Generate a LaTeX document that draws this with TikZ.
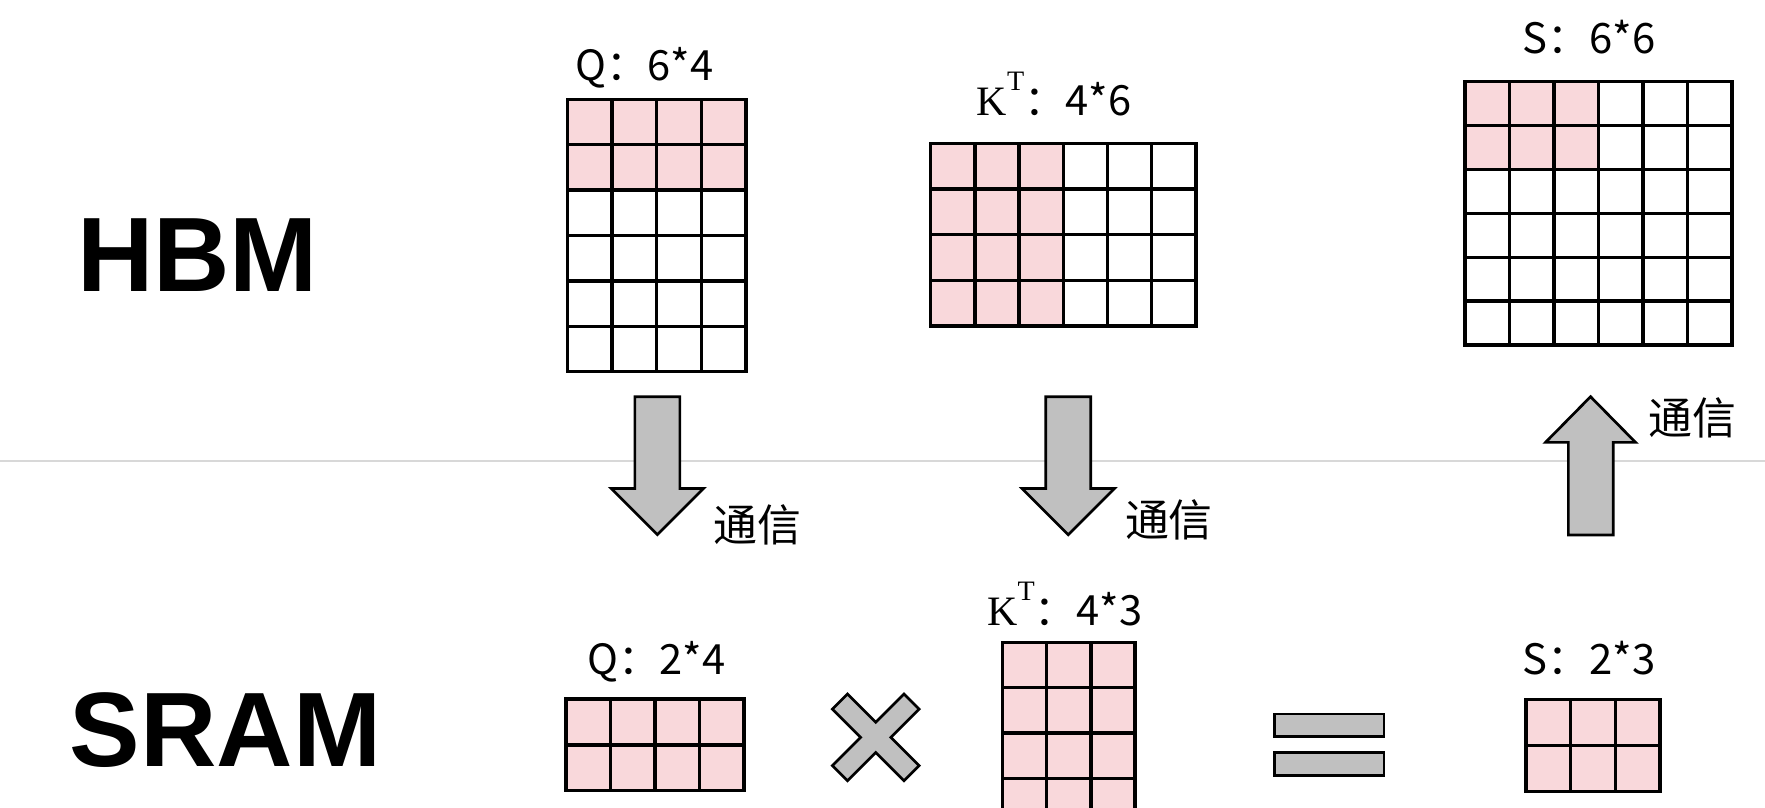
\documentclass[tikz,border=0pt]{standalone}
\usepackage{fontspec}
\setmainfont{Liberation Sans}
\newfontfamily\cjk{Noto Sans CJK SC}
\newfontfamily\serifK{Liberation Serif}
\definecolor{cellpink}{RGB}{249,216,219}
\definecolor{arrowgray}{RGB}{192,192,192}
\definecolor{sepline}{RGB}{216,216,216}
\tikzset{
  gridline/.style={line width=1.5pt, draw=black, line cap=rect},
  blockarrow/.style={fill=arrowgray, draw=black, line width=1.2pt, line join=miter},
  memlabel/.style={font=\fontsize{47}{50}\selectfont\bfseries, inner sep=0pt},
  dimlabel/.style={font=\cjk\fontsize{18.5}{20}\selectfont, inner sep=0pt, anchor=base},
  slabel/.style={font=\cjk\fontsize{18.6}{20}\selectfont, inner sep=0pt, anchor=base},
  commlabel/.style={font=\cjk\fontsize{19.5}{22}\selectfont, inner sep=0pt}
}
% #1 x0, #2 y0, #3 x1, #4 y1, #5 cols, #6 rows, #7 pink cols, #8 pink rows
\newcommand\matgrid[8]{%
  \pgfmathsetmacro\gcw{(#3-#1)/#5}%
  \pgfmathsetmacro\gch{(#4-#2)/#6}%
  \fill[cellpink] (#1,#2) rectangle ({#1+#7*\gcw},{#2+#8*\gch});
  \foreach \k in {0,...,#5} {\draw[gridline] ({#1+\k*\gcw},#2) -- ({#1+\k*\gcw},#4);}
  \foreach \k in {0,...,#6} {\draw[gridline] (#1,{#2+\k*\gch}) -- (#3,{#2+\k*\gch});}
}
\newcommand\KT{{\serifK\fontsize{18.6}{20}\selectfont K\raisebox{0.6em}{\fontsize{12.5}{13}\selectfont T}}}
\begin{document}
\begin{tikzpicture}[x=0.5pt, y=-0.5pt]
\clip (0,0) rectangle (1568,717.8);
\fill[white] (0,0) rectangle (1568,717.8);

% separator
\draw[sepline, line width=0.9pt] (0,409.5) -- (1568,409.5);

% memory labels
\node[memlabel] (hbm) at (175.5,226.5) {HBM};
\node[memlabel] (sram) at (200.5,649) {SRAM};

% HBM matrices
\matgrid{504}{88.2}{662.7}{330.2}{4}{6}{4}{2}
\matgrid{826.7}{127.3}{1062.5}{289.6}{6}{4}{3}{4}
\matgrid{1301.4}{72.6}{1538.6}{306.5}{6}{6}{3}{2}

% SRAM matrices
\matgrid{502.8}{621}{661}{702.4}{4}{2}{4}{2}
\matgrid{890.7}{570.6}{1008.3}{731.8}{3}{4}{3}{4}
\matgrid{1355.6}{621.3}{1474.6}{703.2}{3}{2}{3}{2}

% dimension labels
\node[dimlabel] (lqh) at (572.5,71.7) {Q：6*4};
\node[dimlabel] (lkh) at (936.5,103) {\KT：4*6};
\node[slabel]   (lsh) at (1411.5,47.4) {S：6*6};
\node[dimlabel] (lqs) at (583,599.6) {Q：2*4};
\node[dimlabel] (lks) at (946,556) {\KT：4*3};
\node[slabel]   (lss) at (1411.5,599.6) {S：2*3};

% transfer arrows
\draw[blockarrow] (564,352.5) -- (604,352.5) -- (604,434) -- (625,434) -- (584,475) -- (543,434) -- (564,434) -- cycle;
\draw[blockarrow] (929,352.5) -- (969,352.5) -- (969,434) -- (990,434) -- (949,475) -- (908,434) -- (929,434) -- cycle;
\draw[blockarrow] (1393.3,475.3) -- (1433.2,475.3) -- (1433.2,393) -- (1453,393) -- (1413,352.4) -- (1373,393) -- (1393.3,393) -- cycle;

\node[commlabel] (c1) at (673,466) {通信};
\node[commlabel] (c2) at (1038.5,462) {通信};
\node[commlabel] (c3) at (1503.4,371) {通信};

% multiply sign
\begin{scope}[shift={(778,655)}, rotate=45]
\draw[blockarrow] (9.5,-45) -- (9.5,-9.5) -- (45,-9.5) -- (45,9.5) -- (9.5,9.5) -- (9.5,45)
  -- (-9.5,45) -- (-9.5,9.5) -- (-45,9.5) -- (-45,-9.5) -- (-9.5,-9.5) -- (-9.5,-45) -- cycle;
\end{scope}

% equals sign
\draw[blockarrow] (1132,634.3) rectangle (1229.5,654.4);
\draw[blockarrow] (1132,668.6) rectangle (1229.5,689);
\end{tikzpicture}
\end{document}
